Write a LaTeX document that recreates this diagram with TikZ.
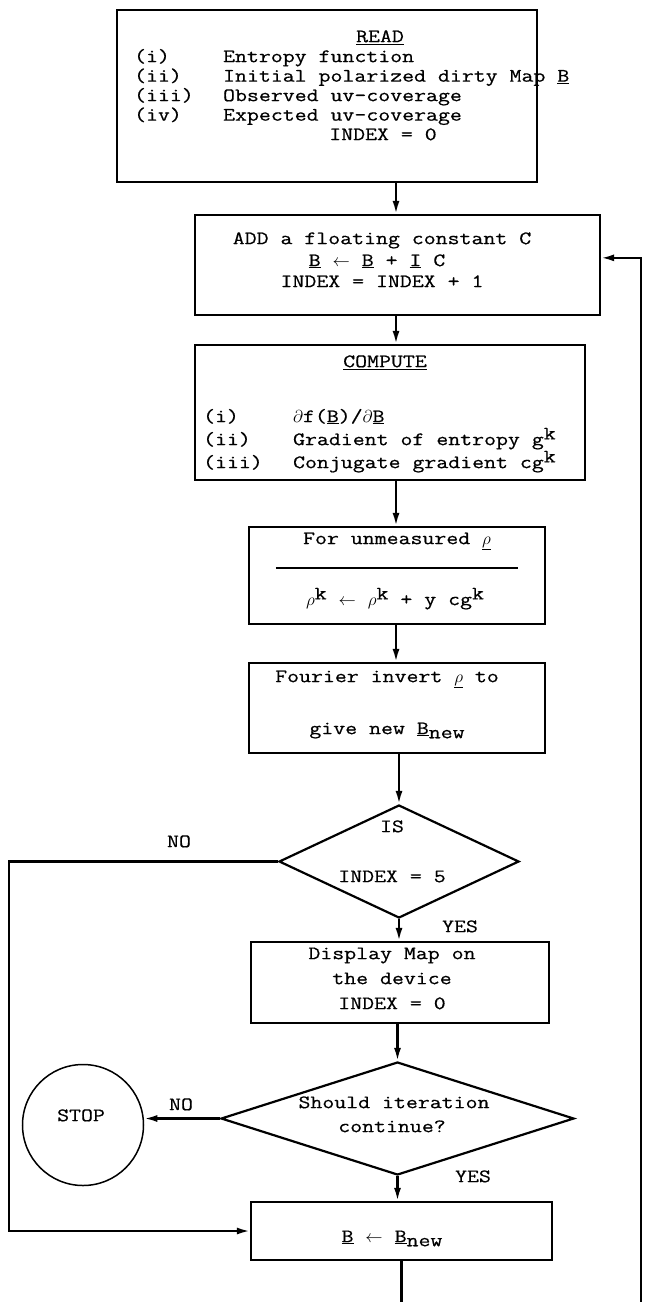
\documentclass[tikz,border=0pt]{standalone}
\usepackage{fontspec}
\setmonofont{Latin Modern Mono}[FakeStretch=1.22,FakeBold=0.6]
\usepackage{tikz}
\usetikzlibrary{arrows.meta,shapes.geometric,calc,positioning}

\tikzset{
  box/.style={draw,rectangle,inner sep=0pt},
  dia/.style={draw,diamond,inner sep=0pt},
  txt/.style={inner sep=0pt,font=\fontsize{19}{19}\selectfont\ttfamily},
  flow/.style={-{Latex[length=13pt,width=7pt]}},
}
\newcommand{\up}[1]{\raisebox{0.7ex}{#1}}
\newcommand{\dn}[1]{\raisebox{-0.5ex}{#1}}

\begin{document}
\begin{tikzpicture}[x=1pt,y=-1pt,line width=2.2pt]
\useasboundingbox (0,0) rectangle (650,1302);
% boxes and decisions
\node[box,minimum width=420pt,minimum height=172pt] (read) at (327,96) {};
\node[box,minimum width=405pt,minimum height=100pt] (add) at (397.5,265) {};
\node[box,minimum width=390pt,minimum height=135pt] (comp) at (390,412.5) {};
\node[box,minimum width=296pt,minimum height=97pt] (unm) at (397,575.5) {};
\node[box,minimum width=296pt,minimum height=90pt] (four) at (397,708) {};
\node[dia,minimum width=240pt,minimum height=113pt] (is) at (399,861.5) {};
\node[box,minimum width=298pt,minimum height=81pt] (disp) at (400,982.5) {};
\node[dia,minimum width=353pt,minimum height=113pt] (cont) at (397.5,1118.5) {};
\node[draw,circle,inner sep=0pt,minimum size=121pt,line width=1.5pt] (stop) at (83,1125) {};
\node[box,minimum width=301pt,minimum height=58pt] (bnew) at (401.5,1231) {};
\draw ($(unm.north west)+(28,42)$) -- ($(unm.north east)+(-28,42)$);

% READ
\node[txt,anchor=mid] (readh) at (380,40) {\underline{READ}};
\node[txt,anchor=mid west] (ri) at (133,60) {(i)};
\node[txt,anchor=mid west] (rii) at (133,79.5) {(ii)};
\node[txt,anchor=mid west] (riii) at (133,99) {(iii)};
\node[txt,anchor=mid west] (riv) at (133,118.5) {(iv)};
\node[txt,anchor=mid west] (rt1) at (222,60) {Entropy function};
\node[txt,anchor=mid west] (rt2) at (222,79.5) {Initial polarized dirty Map \underline{B}};
\node[txt,anchor=mid west] (rt3) at (222,99) {Observed uv-coverage};
\node[txt,anchor=mid west] (rt4) at (222,118.5) {Expected uv-coverage};
\node[txt,anchor=mid] (rt5) at (383,138) {INDEX = 0};

% ADD
\node[txt,anchor=mid] (at1) at (382,242) {ADD a floating constant C};
\node[txt,anchor=mid] (at2) at (377,264) {\underline{B} $\leftarrow$ \underline{B} + \underline{I} C};
\node[txt,anchor=mid] (at3) at (382,285) {INDEX = INDEX + 1};

% COMPUTE
\node[txt,anchor=mid] (comph) at (385,365) {\underline{COMPUTE}};
\node[txt,anchor=mid west] (ci) at (202,420) {(i)};
\node[txt,anchor=mid west] (cii) at (202,443) {(ii)};
\node[txt,anchor=mid west] (ciii) at (202,466) {(iii)};
\node[txt,anchor=mid west] (ct1) at (292,420) {$\partial$f(\underline{B})/$\partial$\underline{B}};
\node[txt,anchor=mid west] (ct2) at (292,443) {Gradient of entropy g\up{k}};
\node[txt,anchor=mid west] (ct3) at (292,466) {Conjugate gradient cg\up{k}};

% unmeasured rho
\node[txt,anchor=mid] (ut1) at (397,542) {For unmeasured $\underline{\rho}$};
\node[txt,anchor=mid] (ut2) at (395,603) {$\rho$\up{k} $\leftarrow$ $\rho$\up{k} + y cg\up{k}};

% Fourier
\node[txt,anchor=mid] (ft1) at (387,680) {Fourier invert $\underline{\rho}$ to};
\node[txt,anchor=mid] (ft2) at (387,732) {give new \underline{B}\dn{new}};

% decisions and the rest
\node[txt,anchor=mid] (it1) at (392,830) {IS};
\node[txt,anchor=mid] (it2) at (392,880) {INDEX = 5};
\node[txt,anchor=mid] (dt1) at (392,957) {Display Map on};
\node[txt,anchor=mid] (dt2) at (392,982) {the device};
\node[txt,anchor=mid] (dt3) at (392,1007) {INDEX = 0};
\node[txt,anchor=mid] (st1) at (394,1106) {Should iteration};
\node[txt,anchor=mid] (st2) at (392,1130) {continue?};
\node[txt,anchor=mid] (stopt) at (81,1119) {STOP};
\node[txt,anchor=mid] (bt) at (392,1240) {\underline{B} $\leftarrow$ \underline{B}\dn{new}};
\node[txt,anchor=mid] (no1) at (179,845) {NO};
\node[txt,anchor=mid] (yes1) at (460,930) {YES};
\node[txt,anchor=mid] (no2) at (181,1108) {NO};
\node[txt,anchor=mid] (yes2) at (473,1180) {YES};

% connectors
\coordinate (spine) at (396,0);
\coordinate (lft) at (9,0);
\coordinate (rgt) at (641,0);
\coordinate (bot) at (0,1302);
\draw[flow] (read.south -| spine) -- (add.north -| spine);
\draw[flow] (add.south -| spine) -- (comp.north -| spine);
\draw[flow] (comp.south -| spine) -- (unm.north -| spine);
\draw[flow] (unm.south -| spine) -- (four.north -| spine);
\draw[flow] (four.south -| is.north) -- (is.north);
\draw[flow] (is.south) -- (disp.north -| is.south);
\draw[flow] (disp.south -| cont.north) -- (cont.north);
\draw[flow] (cont.south) -- (bnew.north -| cont.south);
\draw[flow] (cont.west) -- (cont.west -| stop.east);
\draw[flow] (is.west) -- (is.west -| lft) |- (bnew.west);
\draw (bnew.south) -- (bnew.south |- bot);
\draw[flow] (rgt |- bot) |- ($(add.north east)!0.43!(add.south east)$);
\end{tikzpicture}
\end{document}
